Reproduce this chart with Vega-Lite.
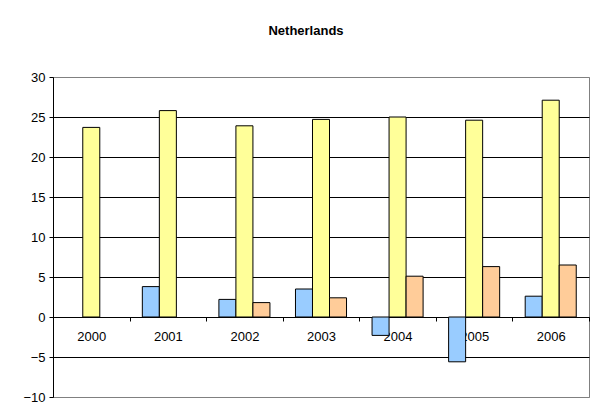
{
  "$schema": "https://vega.github.io/schema/vega-lite/v6.json",
  "width": 536,
  "height": 320,
  "autosize": {"type": "none"},
  "padding": {"left": 53, "top": 77, "right": 2, "bottom": 22},
  "background": "white",
  "title": {
    "text": "Netherlands",
    "font": "Liberation Sans",
    "fontSize": 13,
    "fontWeight": "bold",
    "color": "black",
    "anchor": "middle",
    "frame": "group",
    "dx": -15,
    "offset": 33
  },
  "data": {
    "values": [
      {"year": "2000", "series": "Series 1", "value": null},
      {"year": "2000", "series": "Series 2", "value": 23.7},
      {"year": "2001", "series": "Series 1", "value": 3.8},
      {"year": "2001", "series": "Series 2", "value": 25.8},
      {"year": "2002", "series": "Series 1", "value": 2.2},
      {"year": "2002", "series": "Series 2", "value": 23.9},
      {"year": "2002", "series": "Series 3", "value": 1.8},
      {"year": "2003", "series": "Series 1", "value": 3.5},
      {"year": "2003", "series": "Series 2", "value": 24.7},
      {"year": "2003", "series": "Series 3", "value": 2.4},
      {"year": "2004", "series": "Series 1", "value": -2.3},
      {"year": "2004", "series": "Series 2", "value": 25.0},
      {"year": "2004", "series": "Series 3", "value": 5.1},
      {"year": "2005", "series": "Series 1", "value": -5.6},
      {"year": "2005", "series": "Series 2", "value": 24.6},
      {"year": "2005", "series": "Series 3", "value": 6.3},
      {"year": "2006", "series": "Series 1", "value": 2.6},
      {"year": "2006", "series": "Series 2", "value": 27.1},
      {"year": "2006", "series": "Series 3", "value": 6.5}
    ]
  },
  "mark": {"type": "bar", "stroke": "black", "strokeWidth": 1},
  "encoding": {
    "x": {
      "field": "year",
      "type": "nominal",
      "scale": {"paddingInner": 0, "paddingOuter": 0},
      "axis": {
        "title": null,
        "offset": -80,
        "domainColor": "black",
        "tickColor": "black",
        "tickSize": 4,
        "tickBand": "extent",
        "labelAngle": 0,
        "labelFont": "Liberation Sans",
        "labelFontSize": 13,
        "labelColor": "black",
        "labelPadding": 9,
        "grid": false
      }
    },
    "xOffset": {
      "field": "series",
      "type": "nominal",
      "scale": {"domain": ["Series 1", "Series 2", "Series 3"], "paddingInner": 0, "paddingOuter": 0.75}
    },
    "y": {
      "field": "value",
      "type": "quantitative",
      "scale": {"domain": [-10, 30], "nice": false, "zero": false},
      "axis": {
        "title": null,
        "values": [-10, -5, 0, 5, 10, 15, 20, 25, 30],
        "grid": true,
        "gridColor": {"condition": {"test": "datum.value == 30 || datum.value == -10", "value": "#808080"}, "value": "black"},
        "gridWidth": 1,
        "domainColor": "black",
        "tickColor": "black",
        "tickSize": 4,
        "labelFont": "Liberation Sans",
        "labelFontSize": 13,
        "labelColor": "black",
        "labelPadding": 4
      }
    },
    "color": {
      "field": "series",
      "type": "nominal",
      "scale": {"domain": ["Series 1", "Series 2", "Series 3"], "range": ["#99CCFF", "#FFFF99", "#FFCC99"]},
      "legend": null
    }
  },
  "config": {"view": {"stroke": "#808080", "strokeWidth": 1}}
}
